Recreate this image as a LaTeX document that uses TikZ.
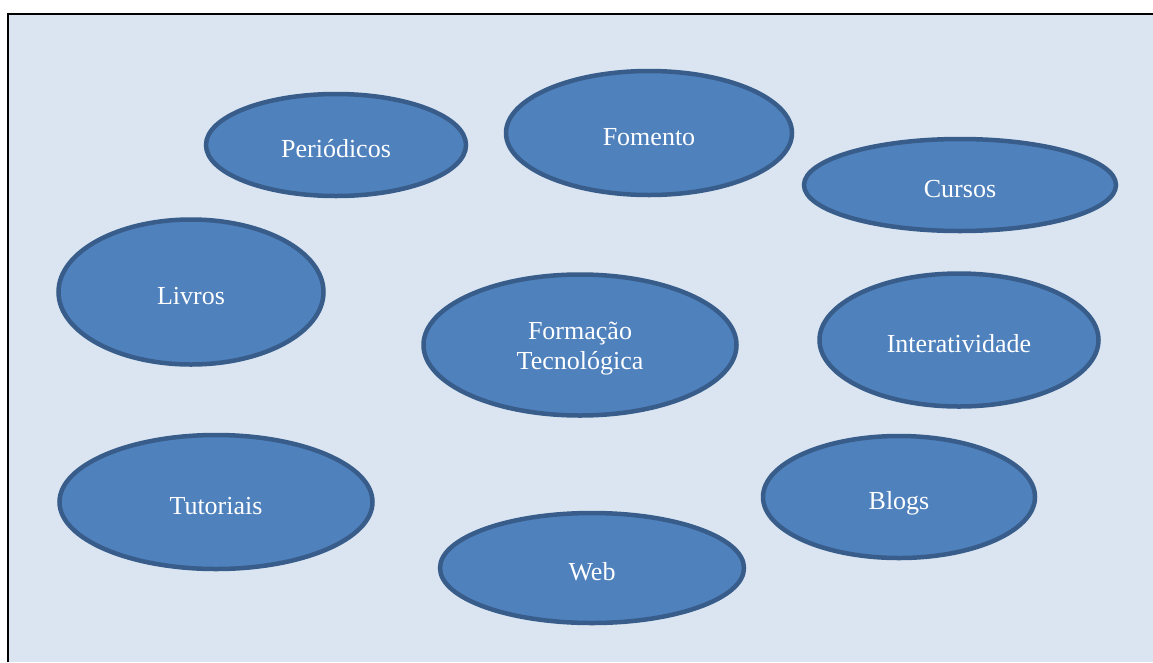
\documentclass[tikz,border=0pt]{standalone}
\usepackage{fontspec}
\setmainfont{Liberation Serif}
\usepackage{tikz}
\definecolor{PanelBlue}{HTML}{DBE5F1}
\definecolor{BubbleFill}{HTML}{4F81BD}
\definecolor{BubbleEdge}{HTML}{385D8A}
\usetikzlibrary{
	shapes.geometric
}

\begin{document}
\begin{tikzpicture}[
		x=1pt, y=-1pt,
		bubble/.style={ellipse, draw=BubbleEdge, line width=4.5pt, fill=BubbleFill, inner sep=0pt,
			text=white, font=\fontsize{26}{30}\selectfont, align=center,
			text height=24pt, text depth=0pt}
	]
		
		\useasboundingbox (0,0) rectangle (1153,662);
		\fill[PanelBlue] (8,14) rectangle (1153,662);
		\draw[line width=2.5pt] (8,662) -- (8,14) -- (1153,14);
		
		\node[bubble, minimum width=260pt, minimum height=102pt] (periodicos) at (336,145) {Periódicos};
		\node[bubble, minimum width=286pt, minimum height=124pt] (fomento) at (649,133) {Fomento};
		\node[bubble, minimum width=312pt, minimum height=92pt] (cursos) at (960,185) {Cursos};
		\node[bubble, minimum width=265pt, minimum height=145pt] (livros) at (191,292) {Livros};
		\node[bubble, minimum width=313pt, minimum height=141pt, text height=48pt] (formacao) at (580,345) {Formação\\Tecnológica};
		\node[bubble, minimum width=279pt, minimum height=133pt] (interatividade) at (959,340) {Interatividade};
		\node[bubble, minimum width=313pt, minimum height=134pt] (tutoriais) at (216,502) {Tutoriais};
		\node[bubble, minimum width=272pt, minimum height=122pt] (blogs) at (899,497) {Blogs};
		\node[bubble, minimum width=304pt, minimum height=110pt] (web) at (592,568) {Web};
		
	\end{tikzpicture}
\end{document}
